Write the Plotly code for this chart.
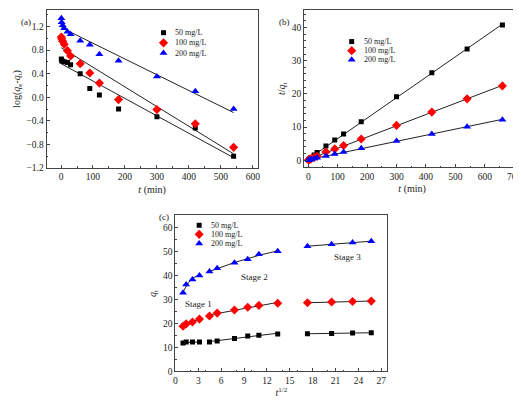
import numpy as np
import plotly.graph_objects as go

# ---------------- data ----------------
series_names = ["50 mg/L", "100 mg/L", "200 mg/L"]
colors = ["#000000", "#ff0000", "#0000ff"]
symbols = ["square", "diamond", "triangle-up"]
sizes = [5, 7, 7]

# (a) pseudo-first-order
t_a = [1, 2, 5, 10, 20, 30, 60, 90, 120, 180, 300, 420, 540]
loga_50 = [0.65, 0.62, 0.61, 0.60, 0.59, 0.55, 0.40, 0.15, 0.04, -0.20, -0.33, -0.52, -1.00]
loga_100 = [1.02, 0.99, 0.95, 0.90, 0.79, 0.70, 0.57, 0.41, 0.24, -0.04, -0.21, -0.45, -0.85]
loga_200 = [1.34, 1.27, 1.22, 1.17, 1.11, 1.07, 0.96, 0.89, 0.73, 0.62, 0.35, 0.10, -0.20]

# (b) pseudo-second-order
t_b = [1, 2, 5, 10, 20, 30, 60, 90, 120, 180, 300, 420, 540, 660]
tq_50 = [0.1, 0.2, 0.4, 0.8, 1.6, 2.3, 4.3, 6.1, 7.9, 11.6, 19.1, 26.4, 33.5, 40.8]
tq_100 = [0.05, 0.1, 0.25, 0.46, 0.85, 1.2, 2.5, 3.4, 4.4, 6.4, 10.5, 14.5, 18.5, 22.4]
tq_200 = [0.03, 0.05, 0.13, 0.25, 0.5, 0.7, 1.3, 1.9, 2.5, 3.6, 5.8, 7.9, 10.1, 12.2]

# (c) intraparticle diffusion
sqrt_t = [1.0, 1.41, 2.24, 3.16, 4.47, 5.48, 7.75, 9.49, 10.95, 13.42, 17.32, 20.49, 23.24, 25.69]
qt_50 = [11.8, 12.2, 12.2, 12.2, 12.3, 12.7, 13.7, 14.8, 15.1, 15.6, 15.7, 15.8, 16.0, 16.1]
qt_100 = [18.8, 19.8, 20.6, 21.8, 23.1, 24.3, 25.6, 26.7, 27.5, 28.4, 28.6, 28.9, 29.1, 29.3]
qt_200 = [32.8, 36.2, 38.3, 40.0, 41.6, 43.0, 45.3, 46.7, 48.8, 50.1, 52.1, 53.0, 53.7, 54.2]
stages = [(0, 4), (4, 10), (10, 14)]
stage_labels = ["Stage 1", "Stage 2", "Stage 3"]

FONT = "Liberation Serif"
W, H = 521, 401
INK = "#222222"

fig = go.Figure()

def add_points(x, ys, xa, ya):
    for i, y in enumerate(ys):
        fig.add_trace(go.Scatter(
            x=x, y=y, mode="markers", name=series_names[i],
            marker=dict(symbol=symbols[i], size=sizes[i], color=colors[i], line=dict(width=0)),
            xaxis=xa, yaxis=ya, showlegend=False))

def add_line(x, y, xa, ya):
    fig.add_trace(go.Scatter(x=x, y=y, mode="lines", line=dict(color=INK, width=1),
                             xaxis=xa, yaxis=ya, showlegend=False, hoverinfo="skip"))

# (a)
for y in [loga_50, loga_100, loga_200]:
    p = np.polyfit(t_a, y, 1)
    xs = np.array([t_a[0], t_a[-1]])
    add_line(xs, np.polyval(p, xs), "x", "y")
add_points(t_a, [loga_50, loga_100, loga_200], "x", "y")

# (b)
for y in [tq_50, tq_100, tq_200]:
    p = np.polyfit(t_b, y, 1)
    xs = np.array([0, t_b[-1]])
    add_line(xs, np.polyval(p, xs), "x2", "y2")
add_points(t_b, [tq_50, tq_100, tq_200], "x2", "y2")

# (c)
for k, y in enumerate([qt_50, qt_100, qt_200]):
    for s, (a, b) in enumerate(stages):
        xs_d = np.array(sqrt_t[a:b]); ys_d = np.array(y[a:b])
        deg = 2 if (k == 2 and s < 2) else 1
        p = np.polyfit(xs_d, ys_d, deg)
        xs = np.linspace(xs_d[0], xs_d[-1], 40)
        add_line(xs, np.polyval(p, xs), "x3", "y3")
add_points(sqrt_t, [qt_50, qt_100, qt_200], "x3", "y3")

# legends (drawn on a transparent overlay axis measured in page pixels)
legend_anchor = [(155, 25, 10.3), (345, 34, 9.2), (191, 220, 9.2)]  # marker x, first row y, row step
for (mx, my, step) in legend_anchor:
    for i in range(3):
        fig.add_trace(go.Scatter(
            x=[mx], y=[my + i * step], mode="markers", xaxis="x4", yaxis="y4",
            marker=dict(symbol=symbols[i], size=sizes[i], color=colors[i], line=dict(width=0)),
            showlegend=False, hoverinfo="skip"))
        fig.add_annotation(text=series_names[i], x=(mx + 10) / W, y=1 - (my + i * step) / H,
                           xref="paper", yref="paper", xanchor="left", yanchor="middle",
                           showarrow=False, font=dict(family=FONT, size=8, color=INK))

def dx(a, b):
    return [a / W, b / W]
def dy(top, bottom):
    return [1 - bottom / H, 1 - top / H]

tickfont = dict(family=FONT, size=9.5, color=INK)
titlefont = dict(family=FONT, size=10, color=INK)
common = dict(showline=True, linecolor="#444444", linewidth=1, mirror=True,
              ticks="inside", ticklen=3, tickcolor="#444444", tickwidth=1,
              showgrid=False, zeroline=False, tickfont=tickfont,
              minor=dict(ticks="inside", ticklen=1.5, tickcolor="#444444", showgrid=False))

fig.update_layout(
    width=W, height=H, margin=dict(l=0, r=0, t=0, b=0),
    paper_bgcolor="white", plot_bgcolor="rgba(0,0,0,0)", showlegend=False,
    font=dict(family=FONT, color=INK),
    xaxis=dict(domain=dx(37, 250), range=[-45, 615], tickvals=[0, 100, 200, 300, 400, 500, 600],
               anchor="y", title=dict(text="<i>t</i> (min)", font=titlefont, standoff=4), **common),
    yaxis=dict(domain=dy(2, 162), range=[-1.2, 1.48], tickvals=[-1.2, -0.8, -0.4, 0.0, 0.4, 0.8, 1.2],
               tickformat=".1f", anchor="x",
               title=dict(text="log(<i>q</i><sub>e</sub>-<i>q</i><sub>t</sub>)", font=titlefont, standoff=4), **common),
    xaxis2=dict(domain=dx(297, 515), range=[-14, 720], tickvals=[0, 100, 200, 300, 400, 500, 600, 700],
                anchor="y2", title=dict(text="<i>t</i> (min)", font=titlefont, standoff=4), **common),
    yaxis2=dict(domain=dy(2, 161.5), range=[-2.2, 45.3], tickvals=[0, 10, 20, 30, 40], anchor="x2",
                title=dict(text="<i>t</i>/<i>q</i><sub>t</sub>", font=titlefont, standoff=4), **common),
    xaxis3=dict(domain=dx(167, 381), range=[0, 27.8], tickvals=[0, 3, 6, 9, 12, 15, 18, 21, 24, 27],
                anchor="y3", title=dict(text="<i>t</i><sup>1/2</sup>", font=titlefont, standoff=4), **common),
    yaxis3=dict(domain=dy(210, 368), range=[0, 65], tickvals=[0, 10, 20, 30, 40, 50, 60], anchor="x3",
                title=dict(text="<i>q</i><sub>t</sub>", font=titlefont, standoff=4), **common),
    xaxis4=dict(domain=[0, 1], range=[0, W], visible=False, anchor="y4", fixedrange=True),
    yaxis4=dict(domain=[0, 1], range=[H, 0], visible=False, anchor="x4", fixedrange=True),
)

# panel labels
for txt, px, py in [("(a)", 9, 7), ("(b)", 277, 7), ("(c)", 148, 212)]:
    fig.add_annotation(text=txt, x=px / W, y=1 - py / H, xref="paper", yref="paper",
                       showarrow=False, font=dict(family=FONT, size=9, color=INK))

stage_pos = [(1.0, 27.9), (8.3, 39.3), (20.5, 47.5)]
for lab, (sx, sy) in zip(stage_labels, stage_pos):
    fig.add_annotation(text=lab, x=sx, y=sy, xref="x3", yref="y3", showarrow=False,
                       xanchor="left", yanchor="middle", font=dict(family=FONT, size=9, color=INK))

fig.write_html("out.html")
